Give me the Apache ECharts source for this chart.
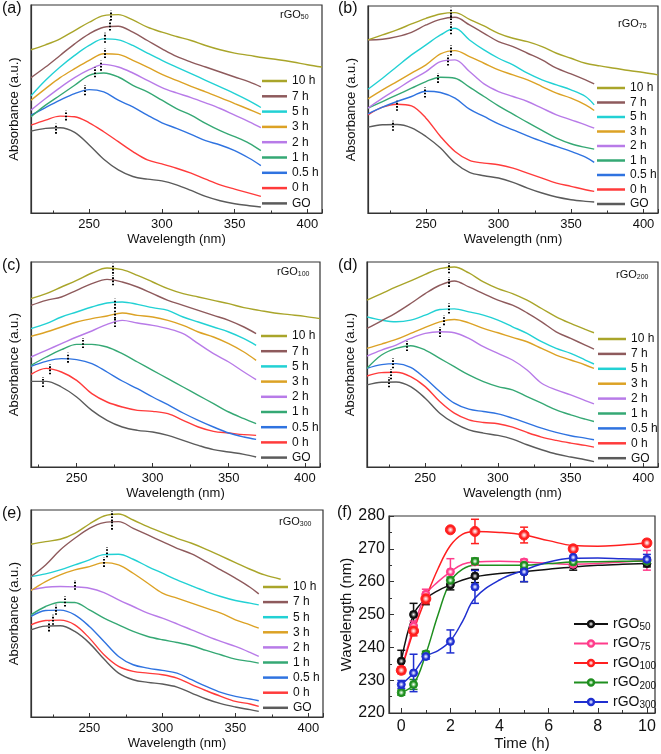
<!DOCTYPE html>
<html><head><meta charset="utf-8">
<script src="https://cdn.jsdelivr.net/npm/echarts@6/dist/echarts.min.js"></script>
<style>html,body{margin:0;padding:0;background:#fff}#c{width:661px;height:754px}</style>
</head><body><div id="c"></div>
<script>
// ---------- DATA ----------
const timeNames = ['GO','0 h','0.5 h','1 h','2 h','3 h','5 h','7 h','10 h'];
const legendOrder = ['10 h','7 h','5 h','3 h','2 h','1 h','0.5 h','0 h','GO'];
const sampleTags = ['50','75','100','200','300'];

// Panel (a) rGO50
const wlA = [210,220,230,240,250,260,270,280,290,300,310,320,330,340,350,360,368];
const wlA10 = [210,220,230,240,250,260,270,280,290,300,310,320,330,340,350,360,370,380,390,400,410];
const absA = [
  [247,255,257,243,205,162,130,110,102,97,85,68,50,37,28,22,18],
  [265,280,292,290,272,245,215,185,160,148,135,120,102,85,72,60,50],
  [295,318,340,360,372,365,340,320,295,272,255,237,218,205,188,165,143],
  [290,325,355,385,415,422,410,385,365,340,315,295,270,248,230,210,188],
  [310,345,378,408,432,448,440,422,400,378,362,348,332,315,295,275,257],
  [340,375,408,435,460,480,478,460,440,418,400,382,365,348,330,312,297],
  [353,400,440,475,505,525,522,505,482,460,440,420,400,380,360,338,318],
  [408,440,475,510,540,560,563,545,520,495,472,455,440,425,410,395,380],
  [492,507,525,550,575,595,598,582,560,545,532,520,505,492,482,475,468,462,455,447,440]
];
const peakNmA = [227,234,247,254,258,261,261,264,265];
const peakAbsA = [254,294,370,424,444,482,528,565,595];

// Panel (b) rGO75
const wlB = [210,220,230,240,250,260,270,280,290,300,310,320,330,340,350,360,366];
const wlB10 = [210,220,230,240,250,260,270,280,290,300,310,320,330,340,350,360,370,380,390,400,410];
const absB = [
  [258,265,266,256,230,195,150,122,112,105,92,75,60,48,40,35,33],
  [295,318,327,322,285,230,185,158,150,145,135,120,105,90,80,70,65],
  [298,318,335,350,366,362,345,312,290,268,250,232,215,200,185,168,152],
  [315,335,355,375,395,408,405,378,350,322,297,272,248,225,208,197,192],
  [315,345,372,400,425,455,460,425,388,365,350,335,315,295,280,265,255],
  [343,370,395,420,445,478,488,470,450,430,415,400,380,360,345,325,308],
  [372,405,440,475,505,535,555,520,490,465,445,420,400,385,370,350,325],
  [520,522,530,543,565,582,588,565,540,515,500,480,460,435,418,400,388],
  [520,535,550,568,585,598,602,582,562,540,525,515,500,480,465,450,442,435,428,422,415]
];
const peakNmB = [227,230,249,258,265,267,267,267,267];
const peakAbsB = [262,322,362,406,458,488,552,585,602];

// Panel (c) rGO100
const wlC = [220,230,240,250,260,270,280,290,300,310,320,330,340,350,360,368];
const wlC10 = [220,230,240,250,260,270,280,290,300,310,320,330,340,350,360,370,380,390,400,410];
const absC = [
  [257,257,240,210,170,140,120,110,105,95,80,65,52,45,38,30],
  [278,296,285,260,220,195,180,170,167,160,140,120,107,102,97,95],
  [302,317,325,322,310,285,258,235,210,187,162,140,120,102,90,83],
  [305,330,352,368,368,360,340,315,290,265,240,215,190,165,145,130],
  [330,350,370,390,408,428,440,432,425,415,400,370,340,315,285,262],
  [392,405,420,435,445,453,462,455,450,440,425,405,390,370,345,320],
  [415,430,450,465,480,492,495,488,478,470,450,435,420,405,385,365],
  [485,500,510,530,550,563,555,540,520,500,485,470,455,440,420,400],
  [505,520,540,560,582,597,592,575,555,535,520,510,500,490,478,470,462,457,452,445]
];
const peakNmC = [228,232,244,254,275,275,275,274,274];
const peakAbsC = [255,293,328,372,435,460,490,560,595];

// Panel (d) rGO200
const wlD = [210,220,230,240,250,260,270,280,290,300,310,320,330,340,350,360,366];
const wlD10 = wlD;
const absD = [
  [247,255,256,242,207,162,132,112,102,95,84,67,52,39,30,22,16],
  [274,284,285,272,242,197,162,142,134,130,120,104,90,80,72,65,60],
  [297,308,311,300,267,227,192,174,167,160,147,132,117,104,94,87,82],
  [297,337,357,365,352,327,302,277,257,242,232,212,192,172,157,144,137],
  [334,352,367,387,402,407,404,387,362,342,322,292,252,232,217,200,190],
  [357,370,384,402,420,437,444,434,417,404,390,377,357,337,322,307,297],
  [452,442,437,442,457,474,476,467,457,442,422,402,377,357,342,322,310],
  [417,440,464,492,522,547,560,542,522,502,487,464,437,407,387,367,355],
  [502,522,542,560,580,597,602,584,557,537,522,502,477,452,432,414,404]
];
const peakNmD = [225,226,228,237,260,263,266,266,266];
const peakAbsD = [255,279,312,364,406,442,477,557,598];

// Panel (e) rGO300
const wlE = [210,220,230,240,250,260,270,280,290,300,310,320,330,340,350,360,366];
const wlE10 = [210,220,230,240,250,260,270,280,290,300,310,320,330,340,350,360,370,381];
const absE = [
  [262,273,274,257,222,174,132,112,104,99,90,72,54,40,30,22,17],
  [277,290,291,277,237,187,152,137,132,127,117,97,79,62,47,39,32],
  [302,320,321,307,272,227,182,157,147,140,132,112,92,74,62,54,49],
  [307,332,345,344,322,297,277,257,242,232,224,214,200,187,174,167,162],
  [382,390,392,391,387,374,352,332,312,297,280,262,244,227,212,194,182],
  [380,407,427,442,452,464,457,432,402,372,357,342,327,312,292,277,267],
  [422,430,442,457,472,488,489,474,452,432,412,394,377,362,350,342,337],
  [422,457,502,537,567,584,587,567,547,527,507,490,467,442,417,390,370],
  [519,527,534,552,580,604,610,592,572,554,537,522,504,484,464,444,427,414]
];
const peakNmE = [222,225,227,233,240,260,262,265,265];
const peakAbsE = [272,292,322,347,397,466,495,578,603];

// Panel (f) peak position vs time
const timePts = [0,0.5,1,2,3,5,7,10];
const peak50  = [235.8,250.0,254.5,259.0,261.7,263.0,265.0,265.5];
const peak75  = [233.0,246.5,256.2,263.0,266.0,266.0,265.3,266.5];
const peak100 = [233.0,245.0,254.8,275.8,275.3,274.2,270.0,271.8];
const peak200 = [226.2,228.7,238.0,260.4,266.2,265.0,266.0,266.3];
const peak300 = [228.7,232.2,237.2,241.8,258.4,263.0,267.4,266.8];
const err50  = [3.3,3.4,1.5,1.5,2.0,3.0,1.5,1.0];
const err75  = [1.0,1.5,1.5,4.0,1.0,0.8,1.0,3.0];
const err100 = [1.0,1.5,1.5,0.5,3.7,2.4,0.8,1.0];
const err200 = [0.8,1.5,0.8,1.0,1.0,1.0,1.0,1.0];
const err300 = [1.2,5.7,0.8,3.5,5.0,3.0,2.5,1.5];
const fitTime = [0,0.5,1,1.5,2,2.5,3,4,5,6,7,8,9,10];
const fit50  = [235.8,250,254.8,257.3,259,260.5,261.5,262.5,263,263.8,264.5,265,265.3,265.5];
const fit75  = [233,246,256,260,263,265.3,266,266.2,266,265.6,265.3,265.5,266,266.5];
const fit100 = [233,245,255,264,271,274.5,275.3,275,274.2,272.5,271,270.8,271.2,271.8];
const fit200 = [226.2,228.7,238,250,260,263.8,265,265,265,265.5,266,266.1,266.2,266.3];
const fit300 = [228.7,232.2,237.2,239,242,248,255,260.5,263.5,266,267.1,267.2,267,266.8];

// ---------- STYLE / LAYOUT ----------
const FF = '"Liberation Sans", Arial, sans-serif';
const AX = '#333';
const lineColors = ['#5b5b5b','#ff3b3b','#2f73e0','#35a874','#b87be8','#dca225','#22d1d4','#8e5a5c','#a9a52a'];
const fColors = ['#111111','#ff3d8b','#ff1f1f','#1f8f1f','#1f2fd0'];
const fLight = ['#9a9a9a','#ffc2da','#ffb0b0','#a8dca8','#a8b0f4'];

const panels = [
  {wl:wlA, wl10:wlA10, abs:absA, pk:peakNmA, pv:peakAbsA, grid:{left:31, top:5, width:291, height:208}, yMax:627, xMin:210, xMax:410,
   leg:{left:262, top:74, gap:1.3, w:25}, tag:'(a)', tagPos:[2,1], samplePos:[280,9]},
  {wl:wlB, wl10:wlB10, abs:absB, pk:peakNmB, pv:peakAbsB, grid:{left:368, top:6, width:291, height:207}, yMax:622, xMin:210, xMax:410,
   leg:{left:597, top:81, gap:0.5, w:28}, tag:'(b)', tagPos:[338,1], samplePos:[618,18]},
  {wl:wlC, wl10:wlC10, abs:absC, pk:peakNmC, pv:peakAbsC, grid:{left:31, top:262, width:289, height:205}, yMax:615, xMin:220, xMax:410,
   leg:{left:261, top:329, gap:1.2, w:26}, tag:'(c)', tagPos:[2,258], samplePos:[277,266]},
  {wl:wlD, wl10:wlD10, abs:absD, pk:peakNmD, pv:peakAbsD, grid:{left:367, top:262, width:291, height:205}, yMax:617, xMin:210, xMax:410,
   leg:{left:598, top:332, gap:0.9, w:28}, tag:'(d)', tagPos:[338,258], samplePos:[616,269]},
  {wl:wlE, wl10:wlE10, abs:absE, pk:peakNmE, pv:peakAbsE, grid:{left:31, top:510, width:292, height:207}, yMax:622, xMin:210, xMax:410,
   leg:{left:263, top:580, gap:1.1, w:25}, tag:'(e)', tagPos:[2,506], samplePos:[279,516]}
];
const gridF = {left:389, top:516, width:266, height:197};

const grids = [], xAxes = [], yAxes = [], series = [], legends = [], titles = [];
const subRich = {m:{fontSize:11, fontWeight:'normal', fontFamily:FF, color:'#111'},
                 s:{fontSize:7, fontWeight:'normal', fontFamily:FF, color:'#111', padding:[5,0,0,0]}};

panels.forEach((p, i) => {
  grids.push(Object.assign({show:true, borderColor:AX, borderWidth:1.2, backgroundColor:'transparent'}, p.grid));
  xAxes.push({
    type:'value', gridIndex:i, min:p.xMin, max:p.xMax, splitNumber:4,
    axisLine:{show:true, onZero:false, lineStyle:{color:AX, width:1.2}},
    axisTick:{show:true, inside:true, length:4, lineStyle:{color:AX, width:1}},
    minorTick:{show:true, splitNumber:2, length:2.5, lineStyle:{color:AX, width:1}},
    splitLine:{show:false}, minorSplitLine:{show:false},
    axisLabel:{margin:5, fontSize:13, color:'#111', fontFamily:FF, formatter: v => (v % 50 === 0 ? String(v) : '')},
    name:'Wavelength (nm)', nameLocation:'middle', nameGap:20,
    nameTextStyle:{fontSize:13, color:'#111', fontFamily:FF}
  });
  yAxes.push({
    type:'value', gridIndex:i, min:0, max:p.yMax,
    axisLine:{show:true, onZero:false, lineStyle:{color:AX, width:1.2}},
    axisTick:{show:false}, axisLabel:{show:false}, splitLine:{show:false},
    name:'Absorbance (a.u.)', nameLocation:'middle', nameGap:10,
    nameTextStyle:{fontSize:13, color:'#111', fontFamily:FF}
  });
  timeNames.forEach((n, k) => {
    const xs = (k === 8) ? p.wl10 : p.wl;
    series.push({
      type:'line', name:n, xAxisIndex:i, yAxisIndex:i,
      data: xs.map((w, j) => [w, p.abs[k][j]]),
      smooth:0.35, showSymbol:false, symbol:'none', silent:true,
      lineStyle:{width:1.4, color:lineColors[k]}, itemStyle:{color:lineColors[k]},
      z: 2 + k * 0.01,
      markLine:{
        silent:true, symbol:['none','none'], label:{show:false}, animation:false,
        lineStyle:{type:[1.6,1.6], color:'#000', width:2},
        emphasis:{disabled:true},
        data:[[{coord:[p.pk[k], p.pv[k] - 15]}, {coord:[p.pk[k], Math.min(p.pv[k] + 15, p.yMax - 2)]}]]
      }
    });
  });
  legends.push({
    data: legendOrder, orient:'vertical', left:p.leg.left, top:p.leg.top, padding:0,
    itemGap:p.leg.gap, itemWidth:p.leg.w, itemHeight:2.5, icon:'rect', selectedMode:false,
    textStyle:{fontSize:12, color:'#111', fontFamily:FF, lineHeight:14}
  });
  titles.push({text:p.tag, left:p.tagPos[0], top:p.tagPos[1], padding:0,
    textStyle:{fontSize:16, fontWeight:'normal', color:'#111', fontFamily:FF}});
  titles.push({text:'{m|rGO}{s|' + sampleTags[i] + '}', left:p.samplePos[0], top:p.samplePos[1], padding:0,
    textStyle:{fontWeight:'normal', fontFamily:FF, rich:subRich}});
});

// ---------- Panel (f) ----------
const fi = 5;
grids.push(Object.assign({show:true, borderColor:AX, borderWidth:1.2, backgroundColor:'transparent'}, gridF));
xAxes.push({
  type:'value', gridIndex:fi, min:-0.5, max:10.33, splitNumber:5,
  axisLine:{show:true, onZero:false, lineStyle:{color:AX, width:1.2}},
  axisTick:{show:true, inside:true, length:5, lineStyle:{color:AX}},
  minorTick:{show:true, splitNumber:2, length:3, lineStyle:{color:AX}},
  splitLine:{show:false}, minorSplitLine:{show:false},
  axisLabel:{margin:6, fontSize:16, color:'#111', fontFamily:FF,
    formatter: v => { const r = Math.round(v); return (Math.abs(v - r) < 1e-6 && r % 2 === 0) ? String(r) : ''; }},
  name:'Time (h)', nameLocation:'middle', nameGap:19,
  nameTextStyle:{fontSize:15, color:'#111', fontFamily:FF}
});
yAxes.push({
  type:'value', gridIndex:fi, min:220, max:280, interval:10,
  axisLine:{show:true, onZero:false, lineStyle:{color:AX, width:1.2}},
  axisTick:{show:true, inside:true, length:5, lineStyle:{color:AX}},
  minorTick:{show:true, splitNumber:2, length:3, lineStyle:{color:AX}},
  splitLine:{show:false}, minorSplitLine:{show:false},
  axisLabel:{margin:4, fontSize:16, color:'#111', fontFamily:FF},
  name:'Wavelength (nm)', nameLocation:'middle', nameGap:33,
  nameTextStyle:{fontSize:15, color:'#111', fontFamily:FF}
});
const fPeaks = [peak50, peak75, peak100, peak200, peak300];
const fErrs = [err50, err75, err100, err200, err300];
const fFits = [fit50, fit75, fit100, fit200, fit300];
const fNames = sampleTags.map(t => 'rGO' + t);
function ball(k) {
  return {type:'radial', x:0.5, y:0.5, r:0.5,
    colorStops:[{offset:0, color:'#ffffff'}, {offset:0.25, color:fLight[k]}, {offset:0.6, color:fColors[k]}, {offset:1, color:fColors[k]}]};
}
fNames.forEach((n, k) => {
  const c = fColors[k];
  series.push({
    type:'line', name:n, xAxisIndex:fi, yAxisIndex:fi,
    data: fitTime.map((t, j) => [t, fFits[k][j]]),
    smooth:0.4, showSymbol:false, symbol:'circle', symbolSize:k === 2 ? 10 : 8, silent:true,
    lineStyle:{width:1.5, color:c}, itemStyle:{color:ball(k), borderColor:c, borderWidth:1}, z:2
  });
});
fNames.forEach((n, k) => {
  const c = fColors[k];
  series.push({
    type:'custom', name:'err' + n, xAxisIndex:fi, yAxisIndex:fi, silent:true, z:3,
    data: timePts.map((t, j) => [t, fPeaks[k][j] - fErrs[k][j], fPeaks[k][j] + fErrs[k][j]]),
    encode:{x:0, y:[1,2]},
    renderItem: (params, api) => {
      const lo = api.coord([api.value(0), api.value(1)]);
      const hi = api.coord([api.value(0), api.value(2)]);
      const w = 4, st = {stroke:c, lineWidth:1.5};
      return {type:'group', children:[
        {type:'line', shape:{x1:lo[0], y1:lo[1], x2:hi[0], y2:hi[1]}, style:st},
        {type:'line', shape:{x1:lo[0]-w, y1:lo[1], x2:lo[0]+w, y2:lo[1]}, style:st},
        {type:'line', shape:{x1:hi[0]-w, y1:hi[1], x2:hi[0]+w, y2:hi[1]}, style:st}
      ]};
    }
  });
  series.push({
    type:'scatter', name:'pts' + n, xAxisIndex:fi, yAxisIndex:fi, silent:true, z:4,
    data: timePts.map((t, j) => [t, fPeaks[k][j]]),
    symbol:'circle', symbolSize:k === 2 ? 10 : 8,
    itemStyle:{color:ball(k), borderColor:c, borderWidth:1, opacity:1}
  });
});
legends.push({
  data: fNames, orient:'vertical', left:573, top:617, padding:0, itemGap:4,
  itemWidth:34, itemHeight:8, selectedMode:false,
  formatter: n => '{m|rGO}{s|' + n.slice(3) + '}',
  textStyle:{color:'#111', fontFamily:FF, rich:{m:{fontSize:14, fontFamily:FF, color:'#111'}, s:{fontSize:10, fontFamily:FF, color:'#111', padding:[7,0,0,0]}}}
});
titles.push({text:'(f)', left:337, top:505, padding:0, textStyle:{fontSize:16, fontWeight:'normal', color:'#111', fontFamily:FF}});

const chart = echarts.init(document.getElementById('c'), null, {renderer:'canvas'});
chart.setOption({
  animation:false, backgroundColor:'#fff',
  textStyle:{fontFamily:FF},
  title: titles, legend: legends, grid: grids, xAxis: xAxes, yAxis: yAxes, series: series,
  tooltip:{show:false}
});
</script></body></html>
